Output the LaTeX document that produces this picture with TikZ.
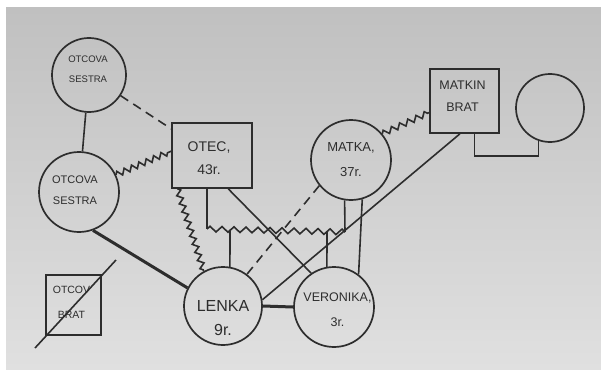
\documentclass[tikz,border=0pt]{standalone}
\usepackage{fontspec}
\setmainfont{Liberation Sans}
\usetikzlibrary{decorations.pathmorphing,calc}
\definecolor{ink}{RGB}{45,45,45}
\definecolor{bgtop}{RGB}{192,192,192}
\definecolor{bgbot}{RGB}{224,224,224}
\begin{document}
\begin{tikzpicture}[x=1pt,y=-1pt,
  person/.style={circle, draw=ink, line width=1.7pt, inner sep=0pt},
  pbox/.style={rectangle, draw=ink, line width=1.7pt, inner sep=0pt},
  lbl/.style={text=ink, align=center, inner sep=0pt},
  link/.style={draw=ink, line width=1.6pt},
  zig/.style={link, decorate, decoration={zigzag, segment length=#1, amplitude=2.8pt}},
  zig/.default=8pt,
  dashlink/.style={link, dash pattern=on 9pt off 6pt},
  strong/.style={draw=ink, line width=3pt}]
\useasboundingbox (0,0) rectangle (601,369);
\fill[white] (0,0) rectangle (601,369);
\shade[top color=bgtop,bottom color=bgbot] (6,8) rectangle (601,369);

% persons
\node[person, minimum size=74pt] (fs1) at (89,75) {};
\node[lbl, font=\fontsize{9.5}{20}\selectfont] (fs1t) at (88,69) {OTCOVA\\SESTRA};
\node[person, minimum size=80pt] (fs2) at (79,192) {};
\node[lbl, font=\fontsize{11}{21}\selectfont] (fs2t) at (75,190.5) {OTCOVA\\SESTRA};
\node[pbox, minimum width=80pt, minimum height=65pt] (otec) at (212,155.5) {};
\node[lbl, font=\fontsize{14}{23}\selectfont] (otect) at (209,158.5) {OTEC,\\43r.};
\node[person, minimum size=80pt] (matka) at (351,160) {};
\node[lbl, font=\fontsize{13}{25}\selectfont] (matkat) at (351,159.5) {MATKA,\\37r.};
\node[pbox, minimum width=69pt, minimum height=64pt] (mb) at (464.5,101) {};
\node[lbl, font=\fontsize{12.5}{22}\selectfont] (mbt) at (462.5,96) {MATKIN\\BRAT};
\node[person, minimum size=68pt] (sp) at (550,108) {};
\node[person, minimum size=78pt] (lenka) at (223,306) {};
\node[lbl, font=\fontsize{16}{24}\selectfont] (lenkat) at (223,318) {LENKA\\9r.};
\node[person, minimum size=80pt] (ver) at (334,307) {};
\node[lbl, font=\fontsize{12.5}{25}\selectfont] (vert) at (337.5,309.5) {VERONIKA,\\3r.};
\node[pbox, minimum width=55pt, minimum height=60pt] (ob) at (73.5,305) {};
\node[lbl, font=\fontsize{10.5}{25}\selectfont] (obt) at (71.5,302.5) {OTCOV\\BRAT};

% cross over deceased
\coordinate (x1) at (35,348);
\coordinate (x2) at (116,260);
\draw[link] (x1) -- (x2);

% relations
\draw[link] (fs1) -- (fs2);
\draw[dashlink] (fs1) -- (otec);
\draw[zig=8pt] (fs2.25) -- (otec.174);
\draw[zig=8.5pt] (otec.-136) -- (lenka.119);
\draw[strong] (fs2.-70) -- (lenka.153);
\draw[strong] (lenka.east) -- (ver.west);

% parents' union
\coordinate (m1) at (207,229);
\coordinate (m2) at (345,232);
\coordinate (c1) at (230,229.5);
\coordinate (c2) at (327,231.6);
\draw[link] (otec.south -| m1) -- (m1);
\draw[zig=12pt] (m1) -- (m2);
\draw[link] (m2) -- (matka.-99);
\draw[link] (c1) -- (lenka.80);
\draw[link] (c2) -- (ver.100);

\draw[link] (otec.-64) -- (ver.124);
\draw[dashlink] (matka.-141.5) -- (lenka.53);
\draw[link] (matka.-74) -- (ver.53);
\draw[link] (mb.-98) -- (lenka.9);
\draw[zig=9pt] (matka.40) -- (mb.-162);
\draw[link] (mb.-73) -- ++(0,22) -| (sp.-109);
\end{tikzpicture}
\end{document}
